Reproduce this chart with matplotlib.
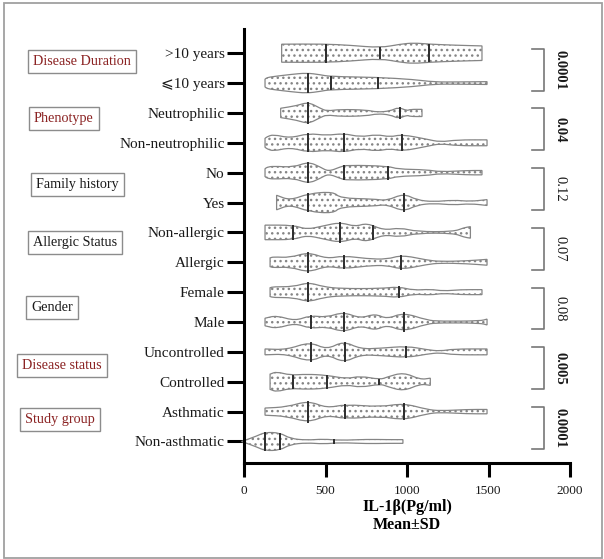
import matplotlib

matplotlib.use("Agg")
import matplotlib.pyplot as plt
import numpy as np
from matplotlib.patches import PathPatch, Rectangle
from matplotlib.path import Path
from matplotlib.transforms import blended_transform_factory

# categories, top to bottom
CATEGORIES = [">10 years", "\u2a7d10 years", "Neutrophilic", "Non-neutrophilic", "No", "Yes",
              "Non-allergic", "Allergic", "Female", "Male", "Uncontrolled", "Controlled",
              "Asthmatic", "Non-asthmatic"]

# violin outlines: IL-1b value knots and relative density
PROFILE_X = [
    [231, 487, 651, 836, 958, 1040, 1137, 1307, 1460],
    [129, 140, 180, 290, 385, 467, 528, 815, 1040, 1163, 1307, 1491],
    [225, 324, 395, 467, 508, 590, 754, 815, 897, 948, 999, 1020, 1092],
    [129, 140, 180, 283, 395, 508, 610, 713, 815, 897, 969, 1122, 1204, 1307, 1491],
    [129, 140, 180, 303, 395, 467, 518, 590, 631, 889, 938, 1122, 1204, 1368, 1460],
    [200, 283, 395, 549, 590, 795, 877, 979, 1061, 1163, 1286, 1388, 1491],
    [129, 303, 385, 487, 590, 682, 754, 856, 958, 1061, 1286, 1348, 1389],
    [160, 180, 283, 395, 508, 610, 754, 877, 969, 1122, 1204, 1368, 1491],
    [160, 180, 303, 395, 487, 590, 836, 948, 1040, 1143, 1224, 1327, 1460],
    [129, 200, 313, 405, 508, 610, 713, 805, 877, 979, 1122, 1204, 1450, 1491],
    [129, 262, 405, 508, 610, 713, 836, 999, 1122, 1204, 1286, 1491],
    [160, 200, 283, 385, 508, 631, 713, 836, 877, 979, 1081, 1143],
    [129, 262, 395, 508, 620, 836, 979, 1122, 1204, 1368, 1491],
    [-15, 78, 129, 221, 283, 385, 487, 590, 754, 877, 975],
]
PROFILE_W = [
    [8.3, 8.5, 7.3, 5, 8.3, 9.5, 8.3, 7.3, 6.7],
    [3.5, 5, 6, 8, 9.3, 7.7, 6, 5.3, 3.3, 1, 1, 1.3],
    [4.3, 6.7, 10, 4.3, 1.7, 3.3, 2.7, 0.7, 1.7, 5.3, 2, 3.3, 3.3],
    [4, 5.5, 7.7, 4.3, 8.7, 6.7, 8.7, 5.3, 7.7, 5.3, 7.7, 3.3, 0.7, 2.7, 2.7],
    [3.5, 5, 6, 5, 10, 5.3, 1, 5.3, 7, 6, 3.3, 2.7, 0.7, 2, 2],
    [6.7, 2, 8.3, 10, 4, 3.3, 1.7, 8.3, 2.3, 0.7, 2.3, 1, 2.7],
    [6.7, 6.7, 2.7, 6, 9.3, 5.3, 8.7, 2, 4.3, 0.7, 0.7, 4.3, 5.3],
    [4, 5, 4.3, 9.3, 3.3, 6, 3.3, 2.7, 6.7, 2, 0.7, 1.3, 2.7],
    [4, 5, 5, 9, 5, 3.3, 3.3, 5, 1.7, 2.7, 1, 2.3, 2.3],
    [3.5, 6, 1, 6, 4.3, 9.3, 3.3, 7.7, 2.7, 8.7, 1.7, 0.7, 1, 2.7],
    [2.7, 2, 9.3, 2, 10, 2.7, 3.3, 5.3, 2, 0.7, 2.7, 2.7],
    [7, 9.3, 6, 7, 6, 2.7, 5.3, 2, 4.3, 8.7, 2, 3.3],
    [3.3, 4.3, 10, 3.3, 6.7, 4.3, 7.7, 2, 0.7, 2, 2],
    [0, 5, 8.5, 8, 2.7, 1.2, 2.3, 1, 2, 1.7, 1.7],
]
# quartile / median marks
QUARTILES = [
    [501, 836, 1137], [395, 532, 825], [391, 954], [395, 616, 969], [391, 616, 883],
    [395, 979], [303, 590, 790], [395, 616, 965], [395, 948], [410, 616, 979],
    [410, 620, 995], [303, 508, 831], [395, 620, 979], [129, 221, 555],
]

GROUPS = ["Disease Duration", "Phenotype", "Family history", "Allergic Status",
          "Gender", "Disease status", "Study group"]
GROUP_RED = [True, True, False, False, False, True, True]
P_VALUES = ["0.0001", "0.04", "0.12", "0.07", "0.08", "0.005", "0.0001"]
P_BOLD = [True, True, False, False, False, True, True]

# layout of the group boxes (figure px from left, y in row units)
GROUP_X_PX = [33, 34, 36, 33, 31, 22, 25]
GROUP_Y = [12.71, 10.82, 8.61, 6.65, 4.49, 2.53, 0.75]

W_SCALE = 1 / 27.5
SERIF = ["Liberation Serif", "DejaVu Serif", "DejaVu Sans"]
plt.rcParams["font.family"] = SERIF
plt.rcParams["hatch.linewidth"] = 1.0


def violin_path(xs, ws, y):
    """Closed outline, smoothed with quadratic B-spline segments through the knots."""
    xs = np.asarray(xs, float)
    ws = np.asarray(ws, float) * W_SCALE

    def side(sign, order):
        pts = [(x, y + sign * w) for x, w in zip(xs[order], ws[order])]
        verts, codes = [], []
        mid = lambda a, b: ((a[0] + b[0]) / 2, (a[1] + b[1]) / 2)
        verts.append(mid(pts[0], pts[1]))
        codes.append(Path.LINETO)
        for i in range(1, len(pts) - 1):
            verts += [pts[i], mid(pts[i], pts[i + 1])]
            codes += [Path.CURVE3, Path.CURVE3]
        verts.append(pts[-1])
        codes.append(Path.LINETO)
        return pts, verts, codes

    fwd = np.arange(len(xs))
    up_pts, up_v, up_c = side(1, fwd)
    lo_pts, lo_v, lo_c = side(-1, fwd[::-1])
    verts = [(xs[0], y - ws[0]), up_pts[0]] + up_v + [lo_pts[0]] + lo_v + [(0, 0)]
    codes = [Path.MOVETO, Path.LINETO] + up_c + [Path.LINETO] + lo_c + [Path.CLOSEPOLY]
    return Path(verts, codes)


fig = plt.figure(figsize=(6.04, 5.59), dpi=100)
ax = fig.add_axes([244 / 604, 96 / 559, 326 / 604, 434 / 559])

n = len(CATEGORIES)
ypos = np.arange(n)[::-1]
for i, y in enumerate(ypos):
    path = violin_path(PROFILE_X[i], PROFILE_W[i], y)
    ax.add_patch(PathPatch(path, facecolor="white", edgecolor="#858585", hatch="...",
                           lw=0.9, zorder=2, clip_on=False))
    for q in QUARTILES[i]:
        h = np.interp(q, PROFILE_X[i], PROFILE_W[i]) * W_SCALE * 0.92
        ax.plot([q, q], [y - h, y + h], color="#2b2b2b", lw=1.4, zorder=3)

ax.set_xlim(0, 2000)
ax.set_ylim(-0.72, n - 1 + 0.81)
ax.set_yticks(ypos, CATEGORIES, fontsize=11, color="#1a1a1a")
ax.set_xticks([0, 500, 1000, 1500, 2000])
ax.tick_params(axis="x", labelsize=9.5, length=10, width=2.2, pad=6, labelcolor="#1a1a1a")
ax.tick_params(axis="y", length=12, width=2.2, pad=2)
for s in ("top", "right"):
    ax.spines[s].set_visible(False)
for s in ("left", "bottom"):
    ax.spines[s].set_linewidth(2.2)
    ax.spines[s].set_zorder(4)
ax.set_xlabel("IL-1\u03b2(Pg/ml)\nMean\u00b1SD", fontsize=11.5, fontweight="bold",
              labelpad=1, linespacing=1.2)

# p-value brackets
for k, (p, bold) in enumerate(zip(P_VALUES, P_BOLD)):
    top = ypos[2 * k] + 0.15
    bot = ypos[2 * k + 1] - 0.25
    ax.plot([1765, 1840, 1840, 1765], [top, top, bot, bot], color="#777777", lw=1.2,
            clip_on=False, zorder=2)
    ax.text(1940, (top + bot) / 2, p, rotation=270, ha="center", va="center",
            fontsize=10.5, fontweight="bold" if bold else "normal", color="#1a1a1a")

# group boxes on the left
tr = blended_transform_factory(fig.transFigure, ax.transData)
for name, red, gx, gy in zip(GROUPS, GROUP_RED, GROUP_X_PX, GROUP_Y):
    ax.text(gx / 604, gy, name, transform=tr, ha="left", va="center", fontsize=10.2,
            color="#8b2323" if red else "#1a1a1a",
            bbox=dict(boxstyle="square,pad=0.35", facecolor="white", edgecolor="#8c8c8c", lw=1))

fig.patches.append(Rectangle((4 / 604, 1.5 / 559), 598 / 604, 554.5 / 559, transform=fig.transFigure,
                             fill=False, edgecolor="#a0a0a0", lw=1.3))

fig.savefig("out.png", dpi=100)
